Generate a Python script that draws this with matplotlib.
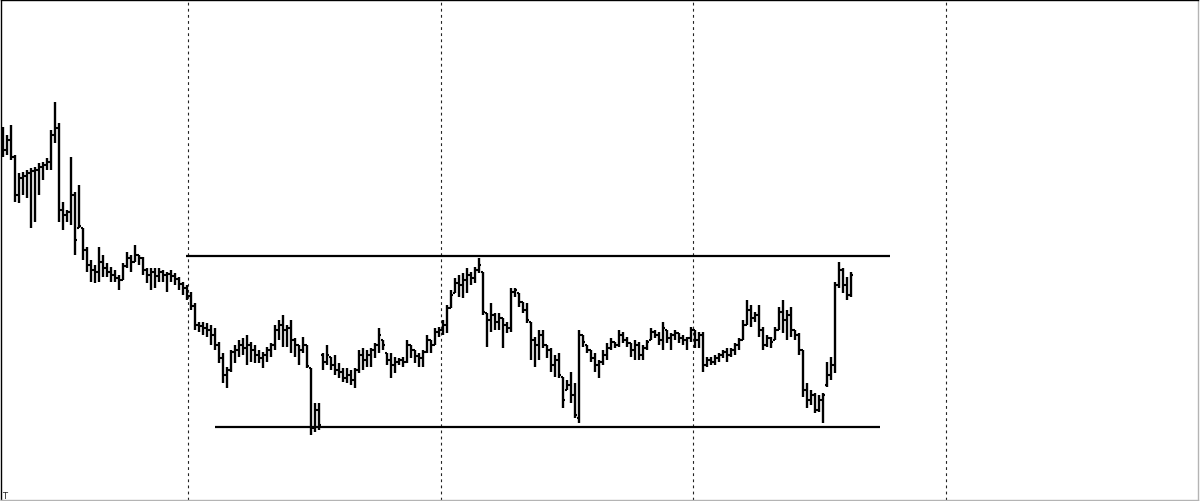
import numpy as np
import matplotlib
matplotlib.use('Agg')
import matplotlib.pyplot as plt

# OHLC bars, oldest first (price units)
opens = [360, 350, 360, 343, 305, 322, 324, 327, 329, 330, 333, 335, 338, 365, 372, 290, 285, 288, 305, 272,
         272, 250, 235, 230, 228, 238, 232, 228, 225, 222, 220, 234, 242, 238, 245, 242, 230, 225, 228, 224,
         228, 225, 226, 224, 221, 216, 212, 204, 194, 175, 174, 172, 170, 165, 155, 142, 125, 130, 148, 150,
         155, 152, 155, 150, 145, 142, 145, 150, 155, 170, 175, 170, 172, 160, 155, 150, 155, 132, 72, 90,
         145, 138, 143, 135, 130, 128, 122, 125, 120, 130, 145, 140, 145, 150, 155, 160, 147, 140, 135, 138,
         140, 138, 155, 150, 144, 142, 148, 160, 155, 168, 170, 175, 192, 207, 217, 215, 220, 225, 222, 230,
         228, 187, 180, 185, 178, 182, 175, 172, 208, 207, 198, 190, 178, 160, 155, 165, 155, 150, 135, 140,
         123, 110, 115, 105, 82, 165, 155, 150, 142, 135, 138, 145, 152, 158, 155, 165, 160, 157, 150, 155,
         145, 152, 160, 168, 165, 160, 170, 162, 165, 167, 162, 160, 162, 170, 160, 165, 135, 140, 138, 142,
         145, 148, 145, 150, 155, 160, 175, 190, 182, 185, 170, 155, 162, 160, 170, 188, 180, 185, 170, 165,
         150, 110, 100, 105, 90, 100, 115, 125, 135, 215, 230, 215, 205]
highs = [373, 365, 375, 345, 327, 328, 330, 332, 333, 337, 338, 342, 370, 398, 377, 298, 290, 343, 308, 315,
         272, 253, 240, 235, 253, 245, 237, 233, 230, 225, 237, 248, 245, 255, 245, 243, 232, 232, 232, 232,
         230, 228, 230, 227, 223, 218, 215, 208, 197, 178, 178, 177, 175, 172, 158, 147, 133, 150, 155, 160,
         162, 165, 158, 155, 150, 148, 153, 157, 175, 180, 185, 175, 180, 162, 155, 163, 155, 132, 97, 97,
         147, 155, 143, 145, 137, 132, 132, 130, 132, 150, 152, 150, 152, 157, 172, 160, 147, 147, 143, 142,
         143, 160, 155, 150, 147, 150, 165, 160, 172, 173, 180, 195, 210, 222, 225, 227, 232, 228, 233, 242,
         228, 187, 197, 187, 187, 182, 178, 212, 212, 207, 198, 197, 178, 163, 170, 170, 155, 152, 145, 147,
         123, 120, 128, 117, 170, 165, 155, 150, 147, 140, 150, 157, 162, 158, 170, 168, 163, 157, 160, 158,
         155, 160, 172, 170, 168, 178, 170, 167, 170, 167, 165, 163, 173, 170, 168, 168, 143, 143, 145, 147,
         150, 152, 152, 157, 162, 180, 200, 195, 188, 195, 173, 165, 163, 173, 193, 200, 190, 193, 170, 167,
         150, 117, 110, 107, 105, 107, 138, 143, 218, 238, 232, 223, 228]
lows = [343, 345, 340, 298, 297, 305, 302, 272, 278, 305, 320, 330, 330, 357, 278, 270, 278, 275, 245, 272,
        240, 228, 218, 217, 218, 223, 223, 218, 218, 210, 220, 232, 228, 238, 235, 225, 217, 210, 212, 218,
        218, 208, 218, 215, 210, 205, 200, 190, 170, 168, 165, 163, 155, 150, 137, 117, 112, 128, 137, 143,
        145, 135, 138, 137, 137, 132, 138, 143, 150, 160, 153, 153, 147, 143, 135, 147, 132, 65, 68, 70,
        130, 135, 130, 125, 122, 118, 117, 115, 112, 127, 130, 133, 133, 142, 147, 150, 135, 122, 127, 135,
        133, 137, 142, 137, 133, 133, 147, 147, 155, 163, 165, 167, 192, 207, 203, 202, 207, 215, 217, 227,
        185, 153, 168, 170, 170, 152, 167, 168, 203, 193, 187, 177, 140, 133, 140, 152, 142, 128, 123, 122,
        92, 110, 97, 82, 77, 153, 147, 138, 128, 122, 135, 140, 150, 152, 153, 157, 153, 143, 140, 140,
        140, 150, 160, 162, 155, 150, 157, 150, 160, 157, 155, 150, 158, 152, 152, 128, 133, 135, 135, 138,
        142, 138, 143, 145, 150, 160, 175, 173, 178, 163, 150, 153, 152, 160, 170, 167, 160, 163, 160, 145,
        103, 92, 95, 87, 88, 77, 113, 120, 127, 212, 207, 200, 203]
closes = [350, 360, 343, 305, 322, 324, 327, 329, 330, 333, 335, 338, 365, 372, 290, 285, 288, 305, 260, 274,
          250, 235, 230, 228, 238, 232, 228, 225, 222, 220, 234, 242, 238, 245, 242, 230, 225, 228, 224, 228,
          225, 226, 224, 221, 216, 212, 204, 194, 175, 174, 172, 170, 165, 155, 142, 125, 130, 148, 150, 155,
          152, 155, 150, 145, 142, 145, 150, 155, 170, 175, 170, 172, 160, 155, 150, 155, 134, 72, 90, 75,
          138, 145, 135, 130, 128, 122, 125, 120, 130, 145, 140, 145, 150, 155, 165, 155, 140, 135, 138, 140,
          138, 155, 150, 144, 142, 148, 160, 155, 168, 170, 175, 192, 205, 217, 215, 220, 225, 222, 230, 235,
          188, 180, 185, 178, 182, 175, 172, 208, 210, 198, 190, 180, 160, 155, 165, 155, 150, 135, 140, 125,
          100, 115, 105, 85, 165, 158, 150, 142, 135, 138, 145, 152, 158, 155, 165, 160, 157, 150, 155, 145,
          152, 158, 168, 165, 160, 172, 162, 165, 167, 162, 160, 162, 170, 160, 165, 135, 140, 138, 142, 145,
          148, 145, 150, 155, 160, 175, 190, 182, 185, 170, 155, 162, 158, 170, 188, 180, 185, 170, 165, 150,
          110, 100, 105, 90, 100, 105, 125, 135, 215, 230, 215, 205, 225]

# trend lines drawn on the chart
resistance = 244
support = 73
resistance_span = (45.75, 221.75)
support_span = (53.0, 219.25)

# vertical time separators (bar positions)
separators = [46.25, 109.5, 172.5, 235.75]

idx = np.arange(len(highs))

fig = plt.figure(figsize=(12, 5.01), dpi=100)
ax = fig.add_axes([0.5 / 1200, 1 / 501, 1197.5 / 1200, 499.5 / 501])
ax.set_facecolor('white')

for s in separators:
    ax.axvline(s, color='#222222', lw=0.8, dashes=(2.5, 3.0), zorder=1)

ax.vlines(idx, lows, highs, color='black', lw=1.7, zorder=3)
ax.hlines(opens, idx - 0.45, idx, color='black', lw=1.5, zorder=3)
ax.hlines(closes, idx, idx + 0.45, color='black', lw=1.5, zorder=3)

ax.hlines(resistance, *resistance_span, color='black', lw=1.6, zorder=2)
ax.hlines(support, *support_span, color='black', lw=1.6, zorder=2)

ax.set_xlim(-0.625, 298.75)
ax.set_ylim(0, 500)
ax.set_xticks([])
ax.set_yticks([])
ax.spines['top'].set_color('black')
ax.spines['left'].set_color('black')
ax.spines['right'].set_color('#b4b4b4')
ax.spines['bottom'].set_color('#b4b4b4')
for sp in ax.spines.values():
    sp.set_linewidth(1.0)

fig.text(0.002, 0.003, 'T', fontsize=6, color='#222222')

fig.savefig('out.png', dpi=100, facecolor='white')
